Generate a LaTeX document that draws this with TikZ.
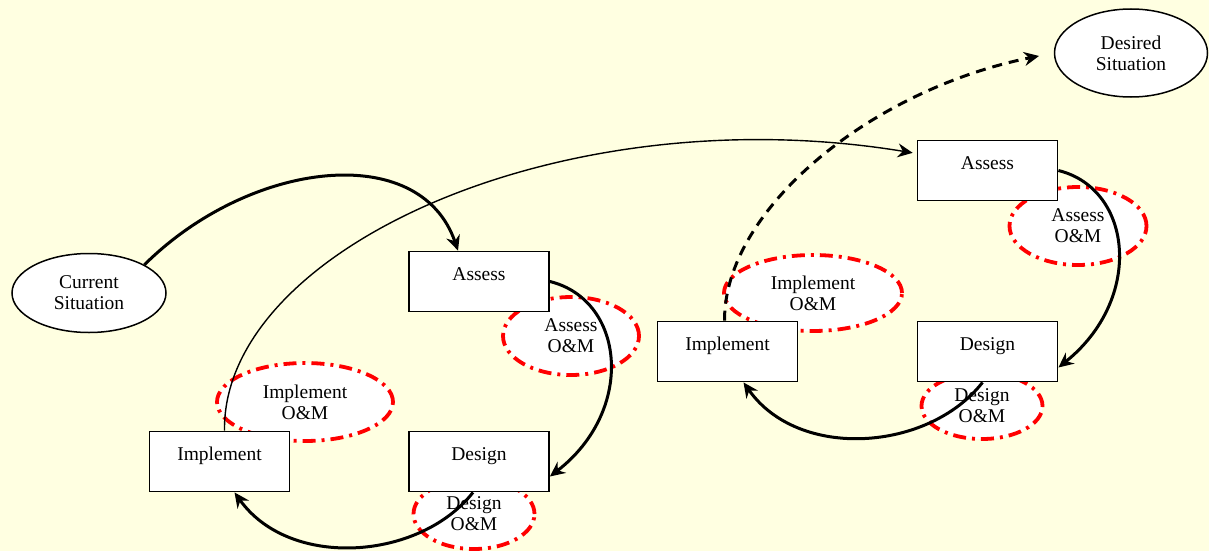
\documentclass[tikz,border=0pt]{standalone}
\usepackage{fontspec}
\setmainfont{Liberation Serif}
\usetikzlibrary{shapes.geometric,arrows.meta}
\definecolor{paper}{RGB}{255,255,225}

\begin{document}
\begin{tikzpicture}[x=1pt,y=-1pt,
  font=\fontsize{19.5}{21}\selectfont,
  stagebox/.style={draw, fill=white, line width=1.8pt, minimum width=140pt, minimum height=60pt, align=center, inner sep=0pt},
  situation/.style={draw, ellipse, fill=white, line width=1.5pt, minimum width=154pt, align=center, inner sep=0pt},
  omnote/.style={draw=red, ellipse, fill=white, line width=3.8pt, dash pattern=on 13pt off 6pt on 3pt off 6pt, align=center, inner sep=0pt},
  flow/.style={line width=3pt, -{Stealth[length=15pt,width=14pt,inset=5pt]}}]
\fill[paper] (0,0) rectangle (1209,551);
\useasboundingbox (0,0) rectangle (1209,551);

% O&M notes
\node[omnote, minimum width=136pt, minimum height=78pt] (omAssL) at (571,336) {Assess\\O\&M};
\node[omnote, minimum width=121pt, minimum height=70pt] (omDesL) at (474,514) {Design\\O\&M};
\node[omnote, minimum width=176pt, minimum height=78pt] (omImpL) at (305,402) {Implement\\O\&M};
\node[omnote, minimum width=137pt, minimum height=78pt] (omAssR) at (1078,226) {Assess\\O\&M};
\node[omnote, minimum width=121pt, minimum height=66pt] (omDesR) at (982,406) {Design\\O\&M};
\node[omnote, minimum width=178pt, minimum height=76pt] (omImpR) at (813,293) {Implement\\O\&M};

% situations
\node[situation, minimum height=79pt] (cur) at (89,293) {Current\\Situation};
\node[situation, minimum width=153pt, minimum height=88pt] (des) at (1131,53) {Desired\\Situation};

% stages
\node[stagebox] (assL) at (479,281.5) {Assess\\[-6pt]\phantom{A}};
\node[stagebox] (desL) at (479,461.5) {Design\\[-6pt]\phantom{A}};
\node[stagebox] (impL) at (219.5,461.5) {Implement\\[-6pt]\phantom{A}};
\node[stagebox] (assR) at (987.5,170.5) {Assess\\[-6pt]\phantom{A}};
\node[stagebox] (desR) at (987.5,351.5) {Design\\[-6pt]\phantom{A}};
\node[stagebox] (impR) at (727.5,351.5) {Implement\\[-6pt]\phantom{A}};

% first cycle
\draw[flow] (cur.27) .. controls (250,160) and (420,140) .. ([xshift=-21pt]assL.north);
\draw[flow] (assL.east) .. controls (625,300) and (636,410) .. ([yshift=-15pt]desL.east);
\draw[flow] ([xshift=-6pt]desL.south) .. controls (420,560) and (290,570) .. ([xshift=15pt]impL.south);
\draw[line width=1.4pt, -{Stealth[length=15pt,width=14pt,inset=5pt]}, shorten >=4pt]
  ([xshift=5pt]impL.north) .. controls (222,250) and (560,95) .. ([yshift=17pt]assR.west);

% second cycle
\draw[flow] (assR.east) .. controls (1133,189) and (1144,299) .. ([yshift=-16pt]desR.east);
\draw[flow] ([xshift=-5pt]desR.south) .. controls (929,451) and (799,461) .. ([xshift=16pt]impR.south);
\draw[flow, dash pattern=on 10pt off 7pt, shorten >=15pt]
  ([xshift=-3pt]impR.north) .. controls (724,210) and (870,90) .. (des.west);
\end{tikzpicture}
\end{document}
